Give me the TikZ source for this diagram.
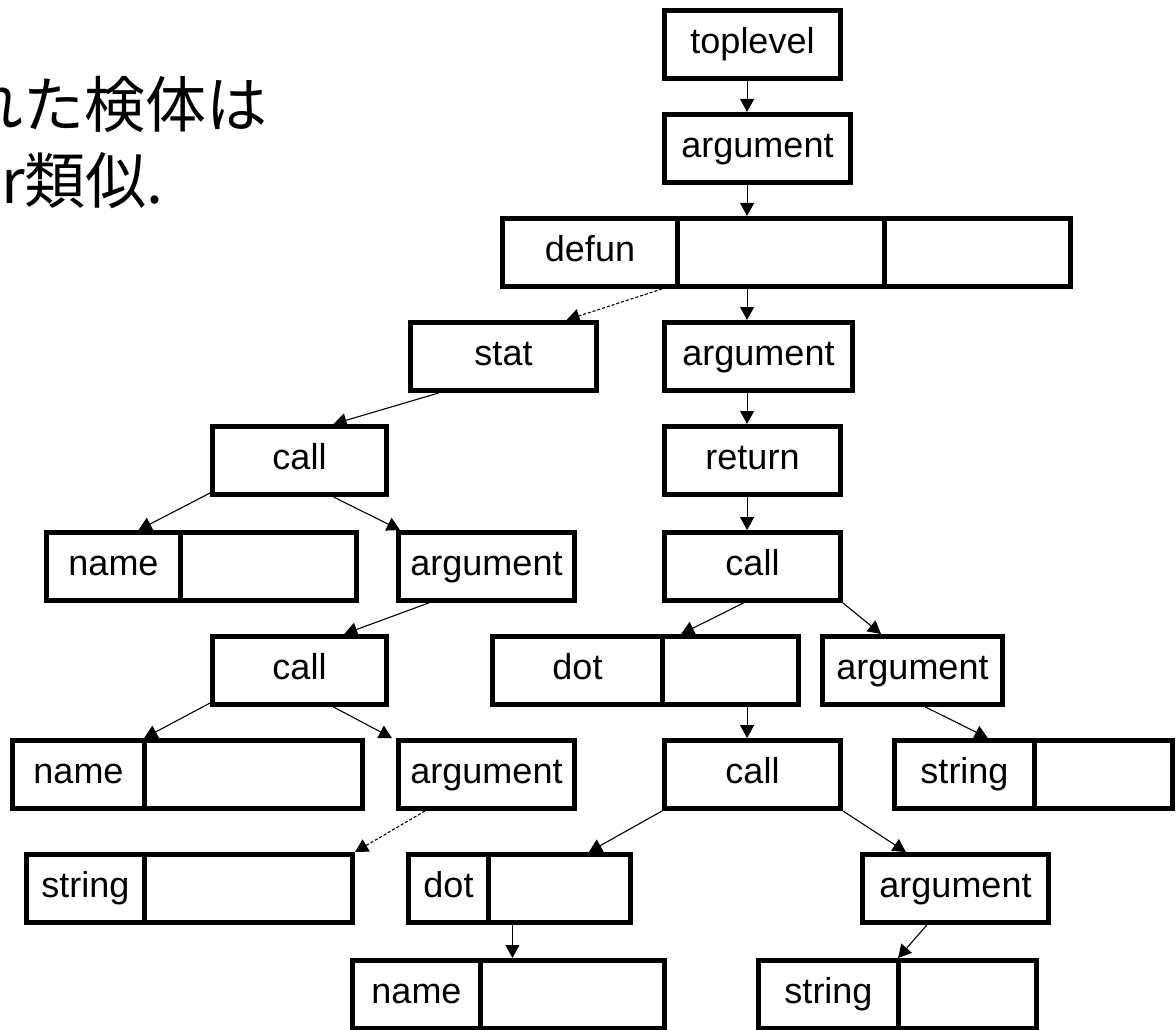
\documentclass[tikz,border=0pt]{standalone}
\usepackage{fontspec}
\setmainfont{Liberation Sans}
\newfontfamily\cjk{Noto Sans CJK JP}
\usetikzlibrary{arrows.meta,calc}
\newcommand\bx[5]{\node[box, minimum width=#4pt] (#1) at (#2,#3) {#5};}
\begin{document}
\begin{tikzpicture}[x=1pt,y=-1pt,
  box/.style={draw, line width=5pt, inner sep=0pt, anchor=north west, minimum height=68pt,
    text height=26pt, text depth=8pt, font=\fontsize{36}{36}\selectfont},
  arr/.style={-{Triangle[length=13pt,width=14pt]}, line width=1.1pt},
  darr/.style={arr, dash pattern=on 3pt off 2pt},
  jp/.style={inner sep=0pt, anchor=base west, font=\cjk\fontsize{61}{61}\selectfont}]
\useasboundingbox (0,0) rectangle (1176,1030);
\node[jp] (t1) at (-38,128) {れた検体は};
\node[jp] (t2) at (1,204) {r類似.};
\bx{top}{662}{8}{176}{toplevel}
\bx{arg1}{662}{112}{186}{argument}
\bx{d1}{500}{216}{175}{defun}
\bx{d2}{675}{216}{207}{}
\bx{d3}{882}{216}{186}{}
\bx{stat}{408}{320}{186}{stat}
\bx{arg2}{662}{320}{188}{argument}
\bx{callL1}{210}{424}{174}{call}
\bx{ret}{662}{424}{176}{return}
\bx{n1a}{44}{530}{134}{name}
\bx{n1b}{178}{530}{176}{}
\bx{argL1}{396}{530}{176}{argument}
\bx{callR}{662}{530}{176}{call}
\bx{callL2}{210}{634}{174}{call}
\bx{dot1a}{490}{634}{170}{dot}
\bx{dot1b}{660}{634}{136}{}
\bx{argR1}{820}{634}{180}{argument}
\bx{n2a}{10}{738}{132}{name}
\bx{n2b}{142}{738}{218}{}
\bx{argL2}{396}{738}{176}{argument}
\bx{callM}{662}{738}{176}{call}
\bx{sRa}{892}{738}{140}{string}
\bx{sRb}{1032}{738}{138}{}
\bx{sLa}{24}{852}{118}{string}
\bx{sLb}{142}{852}{208}{}
\bx{dot2a}{406}{852}{80}{dot}
\bx{dot2b}{486}{852}{142}{}
\bx{argR2}{860}{852}{186}{argument}
\bx{n3a}{350}{958}{128}{name}
\bx{n3b}{478}{958}{184}{}
\bx{s2a}{756}{958}{140}{string}
\bx{s2b}{896}{958}{138}{}
\coordinate (p1) at ($(d2.north west)!0.34!(d2.north east)$);
% connectors
\draw[arr] (p1 |- top.south) -- (p1 |- arg1.north);
\draw[arr] (p1 |- arg1.south) -- (p1 |- d2.north);
\draw[darr] ($(d1.south west)!0.9!(d1.south east)$) -- ($(stat.north west)!0.83!(stat.north east)$);
\draw[arr] (p1 |- d2.south) -- (p1 |- arg2.north);
\draw[arr] ($(stat.south west)!0.16!(stat.south east)$) -- ($(callL1.north west)!0.69!(callL1.north east)$);
\draw[arr] (p1 |- arg2.south) -- (p1 |- ret.north);
\draw[arr] ($(callL1.south west)+(2,-5)$) -- ($(n1a.north west)!0.68!(n1a.north east)$);
\draw[arr] ($(callL1.south west)!0.69!(callL1.south east)$) -- ($(argL1.north west)+(4,0)$);
\draw[arr] (p1 |- ret.south) -- (p1 |- callR.north);
\draw[arr] ($(argL1.south west)!0.18!(argL1.south east)$) -- ($(callL2.north west)!0.75!(callL2.north east)$);
\draw[arr] ($(callR.south west)!0.45!(callR.south east)$) -- ($(dot1b.north west)!0.15!(dot1b.north east)$);
\draw[arr] (callR.south east) -- ($(argR1.north west)!0.33!(argR1.north east)$);
\draw[arr] (p1 |- dot1b.south) -- (p1 |- callM.north);
\draw[arr] ($(callL2.south west)+(2,-5)$) -- ($(n2a.north west)!0.98!(n2a.north east)$);
\draw[arr] ($(callL2.south west)!0.69!(callL2.south east)$) -- ($(argL2.north west)+(-4,0)$);
\draw[arr] ($(argR1.south west)!0.57!(argR1.south east)$) -- ($(sRa.north west)!0.66!(sRa.north east)$);
\draw[arr] (callM.south west) -- ($(dot2b.north west)!0.7!(dot2b.north east)$);
\draw[arr] (callM.south east) -- ($(argR2.north west)!0.24!(argR2.north east)$);
\draw[darr] ($(argL2.south west)!0.16!(argL2.south east)$) -- (sLb.north east);
\draw[arr] ($(dot2b.south west)!0.18!(dot2b.south east)$) coordinate (p2) -- (p2 |- n3b.north);
\draw[arr] ($(argR2.south west)!0.35!(argR2.south east)$) -- ($(s2a.north west)!0.98!(s2a.north east)$);
\end{tikzpicture}
\end{document}
